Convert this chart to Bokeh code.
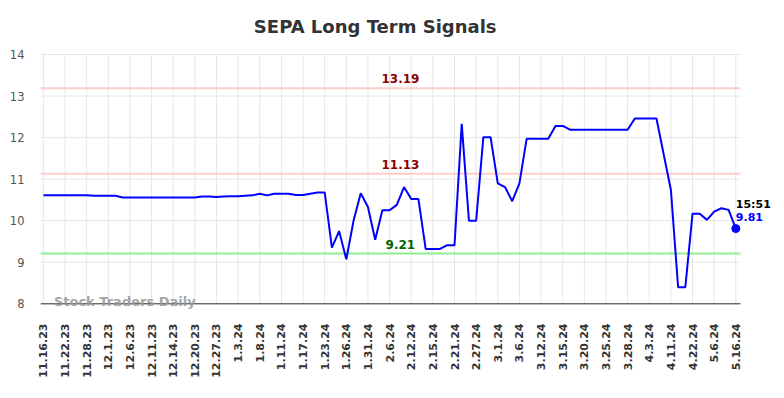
import math
from bokeh.plotting import figure
from bokeh.models import Range1d, FixedTicker, Label, ColumnDataSource
from bokeh.embed import file_html
from bokeh.resources import INLINE

title_text = "SEPA Long Term Signals"
watermark = "Stock Traders Daily"

tick_labels = ["11.16.23", "11.22.23", "11.28.23", "12.1.23", "12.6.23", "12.11.23",
               "12.14.23", "12.20.23", "12.27.23", "1.3.24", "1.8.24", "1.11.24",
               "1.17.24", "1.23.24", "1.26.24", "1.31.24", "2.6.24", "2.12.24",
               "2.15.24", "2.21.24", "2.27.24", "3.1.24", "3.6.24", "3.12.24",
               "3.15.24", "3.20.24", "3.25.24", "3.28.24", "4.3.24", "4.11.24",
               "4.22.24", "5.6.24", "5.16.24"]
points_per_tick = 3

values = [10.61, 10.61, 10.61, 10.61, 10.61, 10.61, 10.61,
          10.60, 10.60, 10.60, 10.60,
          10.56, 10.56, 10.56, 10.56, 10.56, 10.56, 10.56, 10.56, 10.56, 10.56, 10.56,
          10.58, 10.58, 10.57, 10.58, 10.59, 10.59, 10.60, 10.61, 10.65, 10.61,
          10.65, 10.65, 10.65, 10.62, 10.62, 10.65, 10.68, 10.68,
          9.35, 9.75, 9.07, 10.00, 10.66, 10.33, 9.54, 10.25, 10.25, 10.38, 10.81, 10.52, 10.52,
          9.32, 9.32, 9.32, 9.41, 9.41, 12.33, 10.00, 10.00, 12.01, 12.01, 10.90, 10.81, 10.47, 10.90,
          11.97, 11.97, 11.97, 11.97, 12.28, 12.28,
          12.19, 12.19, 12.19, 12.19, 12.19, 12.19, 12.19, 12.19, 12.19,
          12.46, 12.46, 12.46, 12.46, 11.60, 10.74, 8.40, 8.40, 10.17, 10.17, 10.02,
          10.22, 10.30, 10.26, 9.81]

upper_level = 13.19
middle_level = 11.13
support_level = 9.21
last_time = "15:51"

y_ticks = [8, 9, 10, 11, 12, 13, 14]

FONT = "DejaVu Sans"

# layout geometry (pixels)
W, H = 784, 398
LEFT, RIGHT, TOP, BOTTOM = 40, 8, 0, 88
GRID_W = 700          # width of the gridded plot area
GRID_H = 249.3        # height of the gridded plot area (8..14)
GRID_TOP = 54         # pixel row of the 14 gridline

xs = list(range(len(values)))
src = ColumnDataSource(dict(x=xs, y=values))

x_lo = -0.4
x_hi = len(values) - 1 + 0.65
frame_w = W - LEFT - RIGHT
x_end = x_lo + (x_hi - x_lo) * frame_w / GRID_W

y_lo, y_hi = y_ticks[0], y_ticks[-1]
ppu = GRID_H / (y_hi - y_lo)
frame_h = H - TOP - BOTTOM
y_top = y_hi + (GRID_TOP - TOP) / ppu
y_bot = y_top - frame_h / ppu

p = figure(width=W, height=H, output_backend="svg", toolbar_location=None,
           x_range=Range1d(x_lo, x_end), y_range=Range1d(y_bot, y_top),
           min_border_left=LEFT, min_border_right=RIGHT, min_border_top=TOP,
           min_border_bottom=BOTTOM)
p.outline_line_color = None
p.background_fill_color = "white"
p.border_fill_color = "white"
p.grid.visible = False

tick_pos = [i * points_per_tick for i in range(len(tick_labels))]

# gridlines drawn as segments limited to the plot area
p.segment(x0=[x_lo] * len(y_ticks), y0=y_ticks, x1=[x_hi] * len(y_ticks), y1=y_ticks,
          line_color="#e6e6e6", line_width=1)
p.segment(x0=tick_pos, y0=[y_lo] * len(tick_pos), x1=tick_pos, y1=[y_hi] * len(tick_pos),
          line_color="#e6e6e6", line_width=1)

# x axis
p.xaxis.ticker = FixedTicker(ticks=tick_pos)
p.xaxis.major_label_overrides = {t: lab for t, lab in zip(tick_pos, tick_labels)}
p.xaxis.major_label_orientation = math.pi / 2
p.xaxis.major_tick_line_color = None
p.xaxis.minor_tick_line_color = None
p.xaxis.major_tick_out = 0
p.xaxis.major_tick_in = 0
p.xaxis.major_label_standoff = 13
p.xaxis.axis_line_color = None
p.xaxis.major_label_text_font = FONT
p.xaxis.major_label_text_font_size = "11px"
p.xaxis.major_label_text_font_style = "bold"
p.xaxis.major_label_text_color = "#333333"

# y axis
p.yaxis.ticker = FixedTicker(ticks=y_ticks)
p.yaxis.axis_line_color = None
p.yaxis.major_tick_line_color = None
p.yaxis.minor_tick_line_color = None
p.yaxis.major_tick_out = 0
p.yaxis.major_tick_in = 0
p.yaxis.major_label_standoff = 16
p.yaxis.major_label_text_font = FONT
p.yaxis.major_label_text_font_size = "11.5px"
p.yaxis.major_label_text_color = "#555555"

# reference levels
levels = [upper_level, middle_level, support_level]
line_cols = ["#ffcccc", "#ffcccc", "#90ee90"]
text_cols = ["#8b0000", "#8b0000", "#006400"]
p.segment(x0=[x_lo] * 3, y0=levels, x1=[x_hi] * 3, y1=levels, line_color=line_cols, line_width=2)

label_x = (len(values) - 1) / 2 + 1.5
for lvl, col in zip(levels, text_cols):
    p.add_layout(Label(x=label_x, y=lvl, text=f"{lvl:.2f}", text_align="center",
                       text_baseline="alphabetic", y_offset=9.5, text_font=FONT,
                       text_font_size="12px", text_font_style="bold", text_color=col))

# bottom axis line
p.segment(x0=[x_lo], y0=[y_lo], x1=[x_hi], y1=[y_lo], line_color="#333333", line_width=1)

# series
p.line("x", "y", source=src, line_color="#0000ff", line_width=2)
p.scatter(x=[xs[-1]], y=[values[-1]], size=8, color="#0000ff")

p.add_layout(Label(x=xs[-1], y=values[-1], text=last_time, text_align="left",
                   text_baseline="alphabetic", y_offset=24.5, text_font=FONT,
                   text_font_size="11px", text_font_style="bold", text_color="#000000"))
p.add_layout(Label(x=xs[-1], y=values[-1], text=f"{values[-1]:.2f}", text_align="left",
                   text_baseline="alphabetic", y_offset=11.5, text_font=FONT,
                   text_font_size="11px", text_font_style="bold", text_color="#0000ff"))

# watermark
p.add_layout(Label(x=0, y=y_lo, x_offset=10.5, y_offset=2, text=watermark,
                   text_align="left", text_baseline="alphabetic", text_font=FONT,
                   text_font_size="13px", text_font_style="bold", text_color="#999999",
                   text_alpha=0.9))

# title
p.add_layout(Label(x=334.7, y=frame_h - 26, x_units="screen", y_units="screen", text=title_text,
                   text_align="center", text_baseline="alphabetic", text_font=FONT,
                   text_font_size="18px", text_font_style="bold", text_color="#333333"))

open("out.html", "w").write(file_html(p, INLINE))
